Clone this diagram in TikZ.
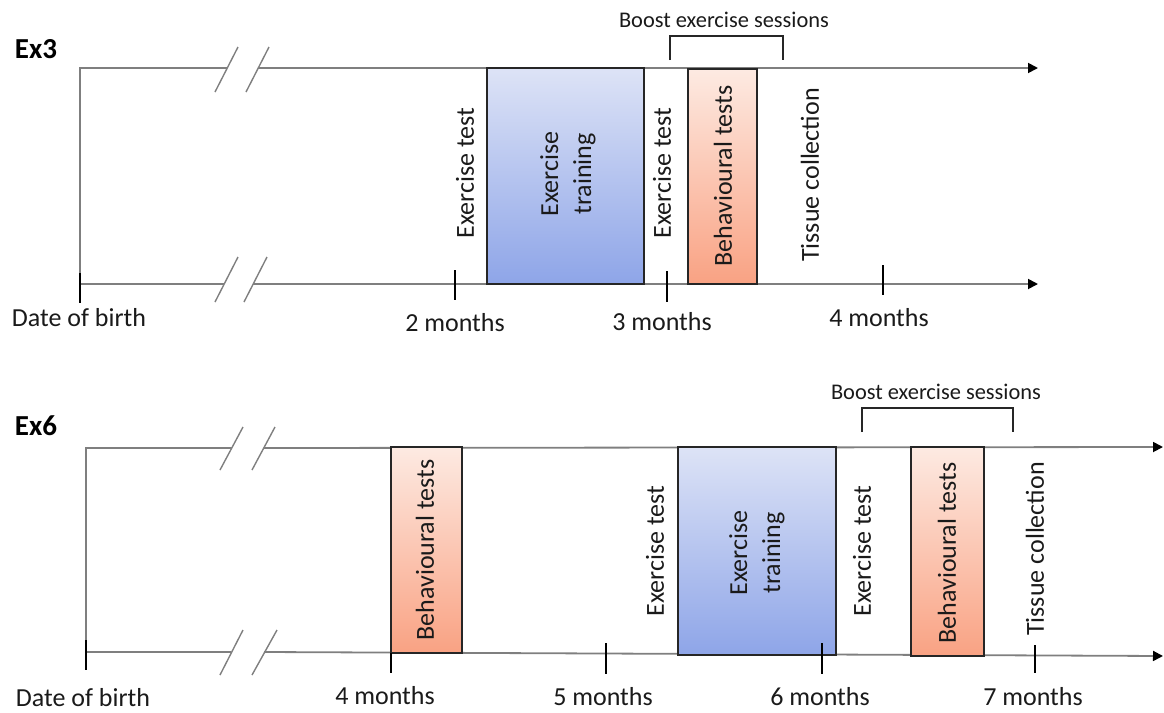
\documentclass[tikz,border=0pt]{standalone}
\usepackage{fontspec}
\setmainfont{Carlito}
\usetikzlibrary{arrows.meta,fit}
\definecolor{axgray}{HTML}{7F7F7F}
\definecolor{txt}{HTML}{1A1A1A}
\definecolor{boxedge}{HTML}{262626}
\definecolor{etTop}{HTML}{DDE3F6}
\definecolor{etBot}{HTML}{8EA5E8}
\definecolor{btTop}{HTML}{FDEAE2}
\definecolor{btBot}{HTML}{F9A283}
\begin{document}
\begin{tikzpicture}[x=0.5pt,y=-0.5pt,
  axisline/.style={draw=axgray, line width=0.9pt},
  arrowtip/.style={-{Triangle[length=5pt,width=5pt,color=black]}},
  tickmark/.style={draw=black, line width=1.3pt},
  breakmark/.style={draw=axgray, line width=0.7pt},
  etbox/.style={draw=boxedge, line width=1pt, top color=etTop, bottom color=etBot, inner sep=0pt},
  btbox/.style={draw=boxedge, line width=1pt, top color=btTop, bottom color=btBot, inner sep=0pt},
  vlbl/.style={rotate=90, font=\fontsize{13}{16.5}\selectfont, text=txt, inner sep=0pt, align=center},
  lbl/.style={font=\fontsize{13}{16}\selectfont, text=txt, inner sep=0pt},
  boostlbl/.style={font=\fontsize{11.2}{13}\selectfont, text=txt, inner sep=0pt},
  panellbl/.style={font=\bfseries\fontsize{14.5}{17}\selectfont, text=black, inner sep=0pt},
  bracketline/.style={draw=boxedge, line width=0.8pt}]
\useasboundingbox (0,0) rectangle (1164,713);

% ================= Ex3 =================
\node[panellbl] (ex3) at (36,49) {Ex3};
\coordinate (t3a) at (80,68);
\coordinate (t3b) at (227,68);
\coordinate (t3c) at (258,68);
\coordinate (t3e) at (1038,68);
\coordinate (b3a) at (80,284);
\coordinate (b3b) at (224,284);
\coordinate (b3c) at (253,284);
\coordinate (b3e) at (1038,284);
\draw[axisline] (b3a) -- (t3a) -- (t3b);
\draw[axisline, arrowtip] (t3c) -- (t3e);
\draw[axisline] (b3a) -- (b3b);
\draw[axisline, arrowtip] (b3c) -- (b3e);
% break marks
\coordinate (k31a) at (215,92); \coordinate (k31b) at (238,47);
\coordinate (k32a) at (246,92); \coordinate (k32b) at (269,47);
\coordinate (k33a) at (215,302); \coordinate (k33b) at (238,257);
\coordinate (k34a) at (244,302); \coordinate (k34b) at (267,257);
\draw[breakmark] (k31a) -- (k31b);
\draw[breakmark] (k32a) -- (k32b);
\draw[breakmark] (k33a) -- (k33b);
\draw[breakmark] (k34a) -- (k34b);
% boxes
\node[etbox, fit={(487,68)(644,284)}] (et3) {};
\node[btbox, fit={(688,69)(757,284)}] (bt3) {};
\node[vlbl] (et3l) at (568,174) {Exercise\\training};
\node[vlbl] (bt3l) at (723,176) {Behavioural tests};
\node[vlbl] (ex3a) at (465,173) {Exercise test};
\node[vlbl] (ex3b) at (662,173) {Exercise test};
\node[vlbl] (tc3) at (810,175) {Tissue collection};
% ticks
\coordinate (d3a) at (80,273); \coordinate (d3b) at (80,303);
\coordinate (m2a) at (455,270); \coordinate (m2b) at (455,300);
\coordinate (m3a) at (667,271); \coordinate (m3b) at (667,302);
\coordinate (m4a) at (883,265); \coordinate (m4b) at (883,295);
\draw[tickmark] (d3a) -- (d3b);
\draw[tickmark] (m2a) -- (m2b);
\draw[tickmark] (m3a) -- (m3b);
\draw[tickmark] (m4a) -- (m4b);
\node[lbl] (dob3) at (79,318) {Date of birth};
\node[lbl] (l2m) at (455,323) {2 months};
\node[lbl] (l3m) at (662,322) {3 months};
\node[lbl] (l4m) at (879,318) {4 months};
% bracket
\coordinate (br3a) at (670,60); \coordinate (br3b) at (670,36);
\coordinate (br3c) at (783,36); \coordinate (br3d) at (783,60);
\draw[bracketline] (br3a) -- (br3b) -- (br3c) -- (br3d);
\node[boostlbl] (boost3) at (724,20) {Boost exercise sessions};

% ================= Ex6 =================
\node[panellbl] (ex6) at (36,426) {Ex6};
\coordinate (t6a) at (86,448);
\coordinate (t6b) at (232,448);
\coordinate (t6c) at (264,448);
\coordinate (t6e) at (1163,447);
\coordinate (b6a) at (86,652);
\coordinate (b6b) at (231,652);
\coordinate (b6c) at (264,652);
\coordinate (b6e) at (1163,656);
\draw[axisline] (b6a) -- (t6a) -- (t6b);
\draw[axisline, arrowtip] (t6c) -- (t6e);
\draw[axisline] (b6a) -- (b6b);
\draw[axisline, arrowtip] (b6c) -- (b6e);
% break marks
\coordinate (k61a) at (220,470); \coordinate (k61b) at (243,427);
\coordinate (k62a) at (252,470); \coordinate (k62b) at (275,427);
\coordinate (k63a) at (220,675); \coordinate (k63b) at (243,630);
\coordinate (k64a) at (252,675); \coordinate (k64b) at (277,630);
\draw[breakmark] (k61a) -- (k61b);
\draw[breakmark] (k62a) -- (k62b);
\draw[breakmark] (k63a) -- (k63b);
\draw[breakmark] (k64a) -- (k64b);
% boxes
\node[btbox, fit={(391,447)(462,653)}] (bt6a) {};
\node[etbox, fit={(678,447)(836,655)}] (et6) {};
\node[btbox, fit={(911,447)(984,656)}] (bt6b) {};
\node[vlbl] (bt6al) at (425,550) {Behavioural tests};
\node[vlbl] (et6l) at (757,553) {Exercise\\training};
\node[vlbl] (bt6bl) at (947,553) {Behavioural tests};
\node[vlbl] (ex6a) at (655,551) {Exercise test};
\node[vlbl] (ex6b) at (862,551) {Exercise test};
\node[vlbl] (tc6) at (1035,549) {Tissue collection};
% ticks
\coordinate (d6a) at (86,640); \coordinate (d6b) at (86,670);
\coordinate (n4a) at (391,653); \coordinate (n4b) at (391,673);
\coordinate (n5a) at (606,643); \coordinate (n5b) at (606,674);
\coordinate (n6a) at (822,643); \coordinate (n6b) at (822,674);
\coordinate (n7a) at (1035,645); \coordinate (n7b) at (1035,673);
\draw[tickmark] (d6a) -- (d6b);
\draw[tickmark] (n4a) -- (n4b);
\draw[tickmark] (n5a) -- (n5b);
\draw[tickmark] (n6a) -- (n6b);
\draw[tickmark] (n7a) -- (n7b);
\node[lbl] (dob6) at (83,698) {Date of birth};
\node[lbl] (k4m) at (385,696) {4 months};
\node[lbl] (k5m) at (603,697) {5 months};
\node[lbl] (k6m) at (820,697) {6 months};
\node[lbl] (k7m) at (1033,697) {7 months};
% bracket
\coordinate (br6a) at (862,432); \coordinate (br6b) at (862,408);
\coordinate (br6c) at (1013,408); \coordinate (br6d) at (1013,432);
\draw[bracketline] (br6a) -- (br6b) -- (br6c) -- (br6d);
\node[boostlbl] (boost6) at (936,392) {Boost exercise sessions};
\end{tikzpicture}
\end{document}
